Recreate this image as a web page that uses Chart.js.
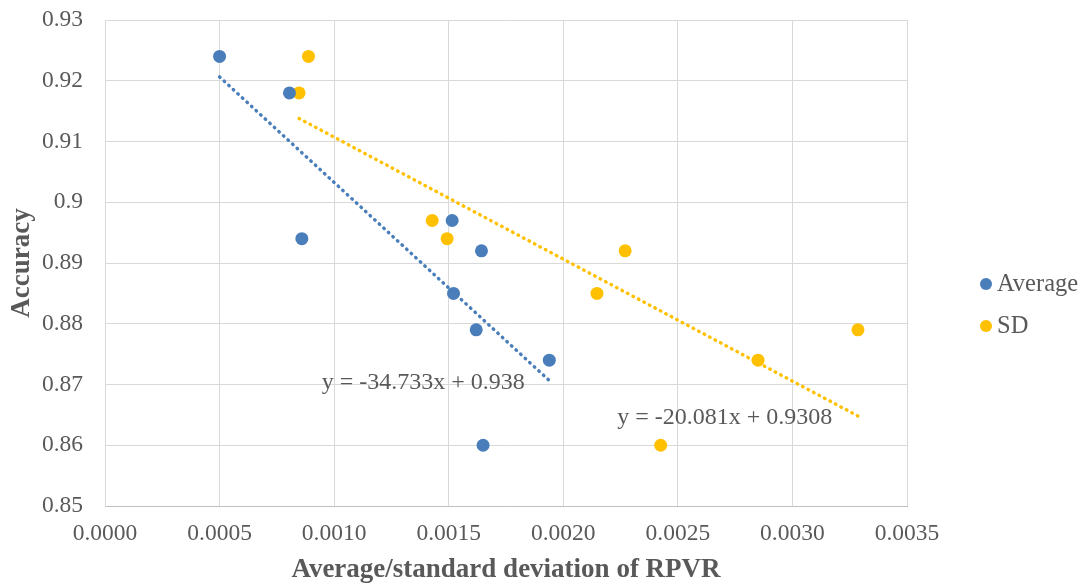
<!DOCTYPE html>
<html lang="en">
<head>
<meta charset="UTF-8">
<title>Accuracy vs RPVR</title>
<style>
  html, body { margin: 0; padding: 0; background: #fff; }
  #wrap { width: 1083px; height: 586px; position: relative; }
</style>
<script src="https://cdn.jsdelivr.net/npm/chart.js"></script>
</head>
<body>
<div id="wrap"><canvas id="chart" width="1083" height="586"></canvas></div>
<script>
// data
const avgX = [0.0005, 0.000805, 0.000859, 0.001515, 0.001643, 0.001521, 0.00162, 0.001939, 0.00165];
const avgY = [0.924, 0.918, 0.894, 0.897, 0.892, 0.885, 0.879, 0.874, 0.86];
const sdX = [0.000888, 0.000847, 0.001428, 0.001493, 0.00227, 0.002147, 0.003286, 0.00285, 0.002425];
const sdY = [0.924, 0.918, 0.897, 0.894, 0.892, 0.885, 0.879, 0.874, 0.86];

const seriesNames = ['Average', 'SD'];
const seriesColors = ['#4A7EBB', '#FFC000'];

// trendline equations shown on the chart
const trendSlope = [-34.733, -20.081];
const trendIntercept = [0.938, 0.9308];
const trendLabels = ['y = -34.733x + 0.938', 'y = -20.081x + 0.9308'];
const trendLabelPos = [[0.001389, 0.8703], [0.002705, 0.8645]];

const xTicks = [0, 0.0005, 0.001, 0.0015, 0.002, 0.0025, 0.003, 0.0035];

const FONT = "'Liberation Serif', 'Times New Roman', serif";
const GREY = '#595959';

function pts(xs, ys) {
    return xs.map((x, i) => ({ x: x, y: ys[i] }));
}

function trend(xs, k) {
    const lo = Math.min(...xs), hi = Math.max(...xs);
    return [
        { x: lo, y: trendSlope[k] * lo + trendIntercept[k] },
        { x: hi, y: trendSlope[k] * hi + trendIntercept[k] }
    ];
}

// legend + equation text
const extras = {
    id: 'extras',
    afterDatasetsDraw(chart) {
        const ctx = chart.ctx;
        const xs = chart.scales.x, ys = chart.scales.y;
        ctx.save();
        ctx.font = '24px ' + FONT;
        ctx.fillStyle = GREY;
        ctx.textBaseline = 'middle';
        ctx.textAlign = 'center';
        trendLabels.forEach((t, i) => {
            ctx.fillText(t, xs.getPixelForValue(trendLabelPos[i][0]), ys.getPixelForValue(trendLabelPos[i][1]));
        });
        ctx.textAlign = 'left';
        seriesNames.forEach((n, i) => {
            const y = 284 + i * 42;
            ctx.beginPath();
            ctx.fillStyle = seriesColors[i];
            ctx.arc(986, y, 6, 0, Math.PI * 2);
            ctx.fill();
            ctx.fillStyle = GREY;
            ctx.font = '24.5px ' + FONT;
            ctx.fillText(n, 997, y + 1);
        });
        ctx.restore();
    }
};

const dotted = {
    showLine: true,
    pointRadius: 0,
    borderWidth: 3.4,
    borderDash: [0.6, 5.6],
    borderCapStyle: 'round',
    order: 2
};

new Chart(document.getElementById('chart').getContext('2d'), {
    type: 'scatter',
    data: {
        datasets: [
            Object.assign({ label: 'Average trend', data: trend(avgX, 0), borderColor: seriesColors[0] }, dotted),
            Object.assign({ label: 'SD trend', data: trend(sdX, 1), borderColor: seriesColors[1] }, dotted),
            {
                label: seriesNames[0],
                data: pts(avgX, avgY),
                backgroundColor: seriesColors[0],
                borderWidth: 0,
                pointRadius: 6.5,
                order: 1
            },
            {
                label: seriesNames[1],
                data: pts(sdX, sdY),
                backgroundColor: seriesColors[1],
                borderWidth: 0,
                pointRadius: 6.5,
                order: 1
            }
        ]
    },
    options: {
        responsive: false,
        animation: false,
        layout: { padding: { top: 20, right: 176, left: 0, bottom: 0 } },
        plugins: {
            legend: { display: false },
            tooltip: { enabled: false }
        },
        scales: {
            x: {
                type: 'linear',
                min: 0,
                max: 0.0035,
                afterBuildTicks: (s) => { s.ticks = xTicks.map(v => ({ value: v })); },
                afterFit: (s) => { s.height = 80; },
                grid: { color: '#d9d9d9', lineWidth: 1, drawTicks: false },
                border: { color: '#bfbfbf', width: 1 },
                ticks: {
                    color: GREY,
                    padding: 14,
                    maxRotation: 0,
                    font: { family: FONT, size: 23.5 },
                    callback: (v) => Number(v).toFixed(4)
                },
                title: {
                    display: true,
                    text: 'Average/standard deviation of RPVR',
                    color: GREY,
                    padding: { top: 0, bottom: 0 },
                    font: { family: FONT, size: 27, weight: 'bold' }
                }
            },
            y: {
                min: 0.85,
                max: 0.93,
                afterFit: (s) => { s.width = 105; s.paddingTop = 0; s.paddingBottom = 0; },
                grid: { color: '#d9d9d9', lineWidth: 1, drawTicks: false },
                border: { color: '#d9d9d9', width: 1 },
                ticks: {
                    stepSize: 0.01,
                    color: GREY,
                    padding: 22,
                    font: { family: FONT, size: 23.5 },
                    callback: (v) => String(Math.round(v * 100) / 100)
                },
                title: {
                    display: true,
                    text: 'Accuracy',
                    color: GREY,
                    padding: { top: 6, bottom: 0 },
                    font: { family: FONT, size: 27, weight: 'bold' }
                }
            }
        }
    },
    plugins: [extras]
});
</script>
</body>
</html>
